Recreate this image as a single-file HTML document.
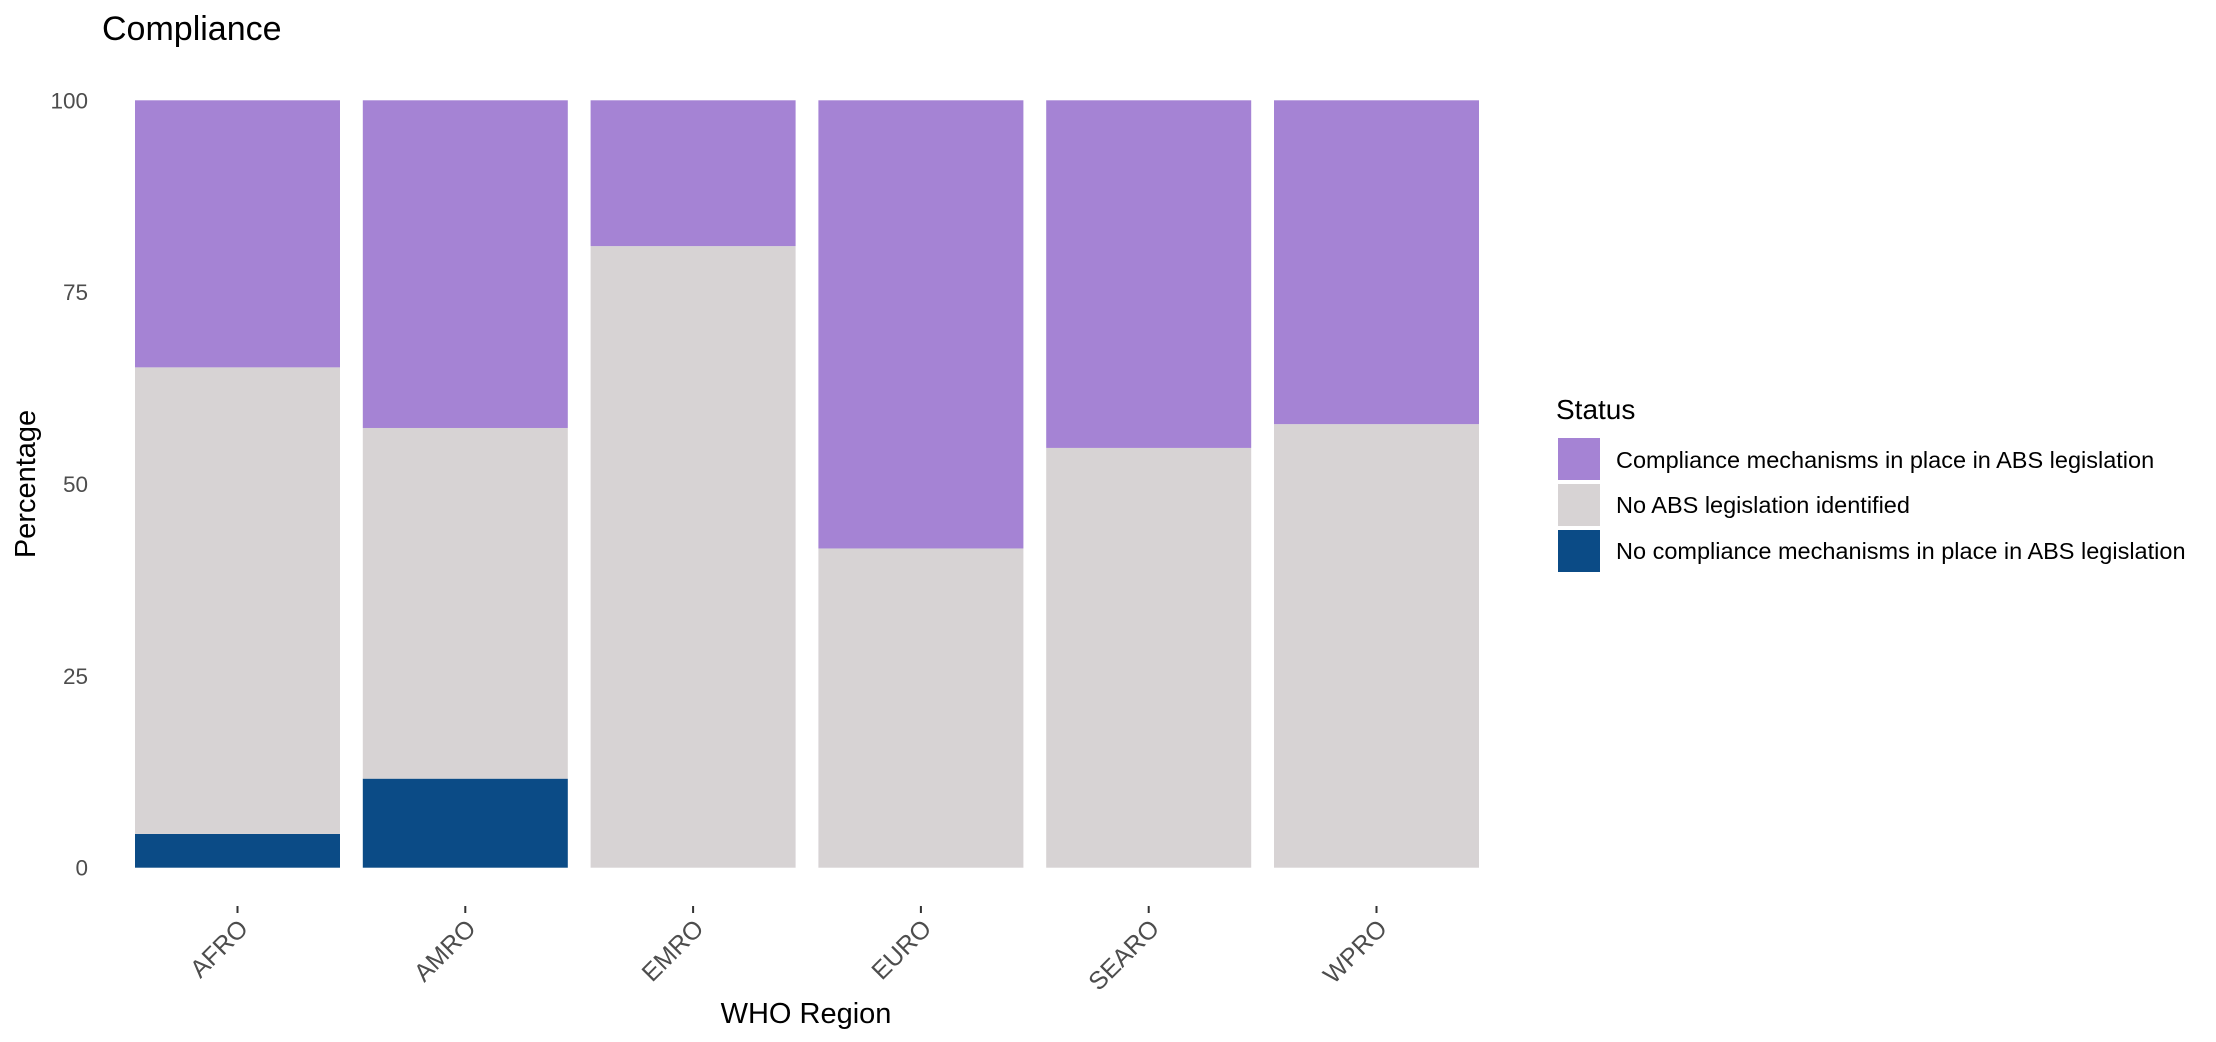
<!DOCTYPE html>
<html><head><meta charset="utf-8"><style>
html,body{margin:0;padding:0;background:#fff;}
svg{display:block;font-family:"Liberation Sans",Arial,sans-serif;}
</style></head><body>
<svg id="chart" width="2216" height="1042" viewBox="0 0 2216 1042">
<text x="102" y="40" font-size="34" fill="#000">Compliance</text>
<text transform="translate(35,484) rotate(-90)" text-anchor="middle" font-size="29" fill="#000">Percentage</text>
<text x="806" y="1023" text-anchor="middle" font-size="29" fill="#000">WHO Region</text>
<g id="bars"></g>
<g id="yticks"></g>
<g id="xticks"></g>
<g>
<text x="1556" y="419" font-size="28" fill="#000">Status</text>
<rect x="1558" y="438" width="42" height="42" fill="#a583d4"/>
<text x="1616" y="468" font-size="23.5" fill="#000">Compliance mechanisms in place in ABS legislation</text>
<rect x="1558" y="484" width="42" height="42" fill="#d7d3d4"/>
<text x="1616" y="513" font-size="23.5" fill="#000">No ABS legislation identified</text>
<rect x="1558" y="530" width="42" height="42" fill="#0b4b86"/>
<text x="1616" y="559" font-size="23.5" fill="#000">No compliance mechanisms in place in ABS legislation</text>
</g>
</svg>
<script>
const categories = ["AFRO","AMRO","EMRO","EURO","SEARO","WPRO"];
const noCompliance = [4.4, 11.6, 0, 0, 0, 0];
const noLegislation = [60.8, 45.7, 81.0, 41.6, 54.7, 57.8];
const compliance = [34.8, 42.7, 19.0, 58.4, 45.3, 42.2];
const yTicks = [0, 25, 50, 75, 100];

const NS = "http://www.w3.org/2000/svg";
const y0 = 867.7, y100 = 100.3;
function yScale(v){ return y0 - (y0 - y100) * v / 100; }
const step = 227.8, firstCenter = 237.5, barW = 205;
function xScale(i){ return firstCenter + i * step; }

const barsG = document.getElementById('bars');
const series = [
  {vals: noCompliance, color: "#0b4b86", key: "no-compliance"},
  {vals: noLegislation, color: "#d7d3d4", key: "no-legislation"},
  {vals: compliance, color: "#a583d4", key: "compliance"}
];
categories.forEach((c, i) => {
  let cum = 0;
  series.forEach(s => {
    const v = s.vals[i];
    if (v > 0) {
      const r = document.createElementNS(NS, 'rect');
      r.setAttribute('x', xScale(i) - barW/2);
      r.setAttribute('width', barW);
      r.setAttribute('y', yScale(cum + v));
      r.setAttribute('height', yScale(cum) - yScale(cum + v));
      r.setAttribute('fill', s.color);
      
      
      barsG.appendChild(r);
    }
    cum += v;
  });
});

const yG = document.getElementById('yticks');
yTicks.forEach(t => {
  const tx = document.createElementNS(NS, 'text');
  tx.setAttribute('x', 88);
  tx.setAttribute('y', yScale(t) + 8);
  tx.setAttribute('text-anchor', 'end');
  tx.setAttribute('font-size', '22.5');
  tx.setAttribute('fill', '#4d4d4d');
  tx.textContent = t;
  
  
  yG.appendChild(tx);
});

const xG = document.getElementById('xticks');
categories.forEach((c, i) => {
  const x = xScale(i);
  const ln = document.createElementNS(NS, 'line');
  ln.setAttribute('x1', x); ln.setAttribute('x2', x);
  ln.setAttribute('y1', 906); ln.setAttribute('y2', 913);
  ln.setAttribute('stroke', '#333'); ln.setAttribute('stroke-width', '2');
  
  
  xG.appendChild(ln);
  const tx = document.createElementNS(NS, 'text');
  tx.setAttribute('transform', 'translate(' + (x + 12) + ',930) rotate(-45)');
  tx.setAttribute('text-anchor', 'end');
  tx.setAttribute('font-size', '25');
  tx.setAttribute('fill', '#4d4d4d');
  tx.textContent = c;
  
  
  xG.appendChild(tx);
});
</script>
</body></html>
